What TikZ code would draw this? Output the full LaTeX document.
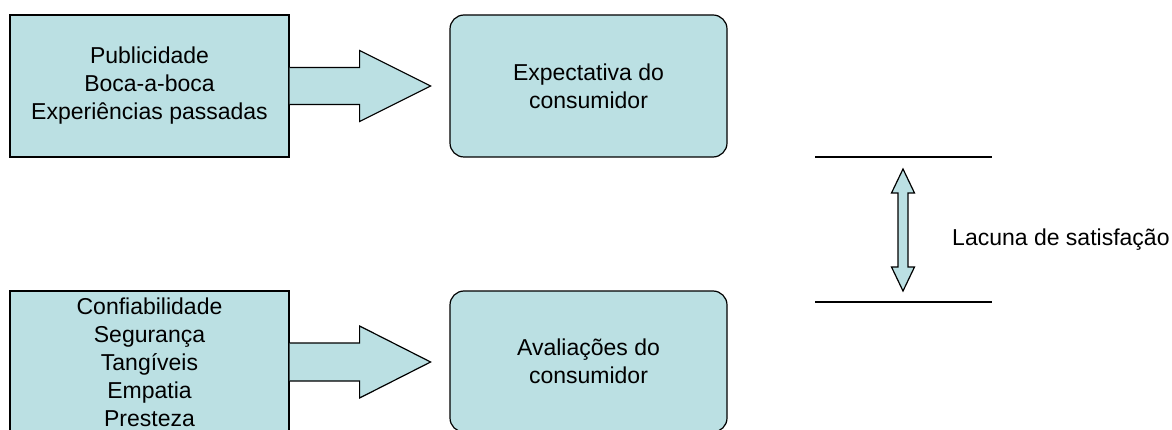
\documentclass[tikz,border=0pt]{standalone}
\usepackage{fontspec}
\setmainfont{Liberation Sans}
\definecolor{azulclaro}{RGB}{187,224,227}

\begin{document}
\begin{tikzpicture}[x=1pt,y=-1pt,
  texto/.style={font=\fontsize{23}{28}\selectfont, align=center},
  caixa/.style={texto, draw, fill=azulclaro, line width=1.2pt, inner sep=0pt,
    minimum width=279pt, minimum height=142pt},
  caixaredonda/.style={caixa, rounded corners=14pt, minimum width=277pt},
  seta/.style={draw, fill=azulclaro, line width=1.2pt, line join=miter}]
\useasboundingbox (0,0) rectangle (1172,430);
%\draw[very thin,color=gray] (0,0) grid[step=50] (1172,430);

% caixas
\node[caixa] (fontes) at (149.5,86) {Publicidade\\Boca-a-boca\\Experiências passadas};
\node[caixaredonda] (expectativa) at (588.5,86) {Expectativa do\\consumidor};
\node[caixa] (servico) at (149.5,362) {Confiabilidade\\Segurança\\Tangíveis\\Empatia\\Presteza};
\node[caixaredonda, minimum height=141pt] (avaliacao) at (588.5,361.5) {Avaliações do\\consumidor};

% setas
\draw[seta] ([yshift=18.5pt]fontes.east) -- ++(70,0) -- ++(0,-17) -- ++(71,35.5)
  -- ++(-71,35.5) -- ++(0,-17) -- ++(-70,0);
\draw[seta] ([yshift=19pt]servico.east) -- ++(70,0) -- ++(0,-17) -- ++(71,36)
  -- ++(-71,36) -- ++(0,-17) -- ++(-70,0);

% lacuna
\coordinate (topo1) at (815,157);
\coordinate (topo2) at (992,157);
\coordinate (base1) at (815,302);
\coordinate (base2) at (992,302);
\coordinate (gap) at (903,230);
\draw[line width=1.2pt] (topo1) -- (topo2);
\draw[line width=1.2pt] (base1) -- (base2);
\draw[seta] (gap) ++(0,-61) -- ++(11.5,24) -- ++(-6.5,0) -- ++(0,74) -- ++(6.5,0)
  -- ++(-11.5,24) -- ++(-11.5,-24) -- ++(6.5,0) -- ++(0,-74) -- ++(-6.5,0) -- cycle;
\node[texto, anchor=west, inner sep=0pt] (lacuna) at (952,240) {Lacuna de satisfação};
\end{tikzpicture}
\end{document}
